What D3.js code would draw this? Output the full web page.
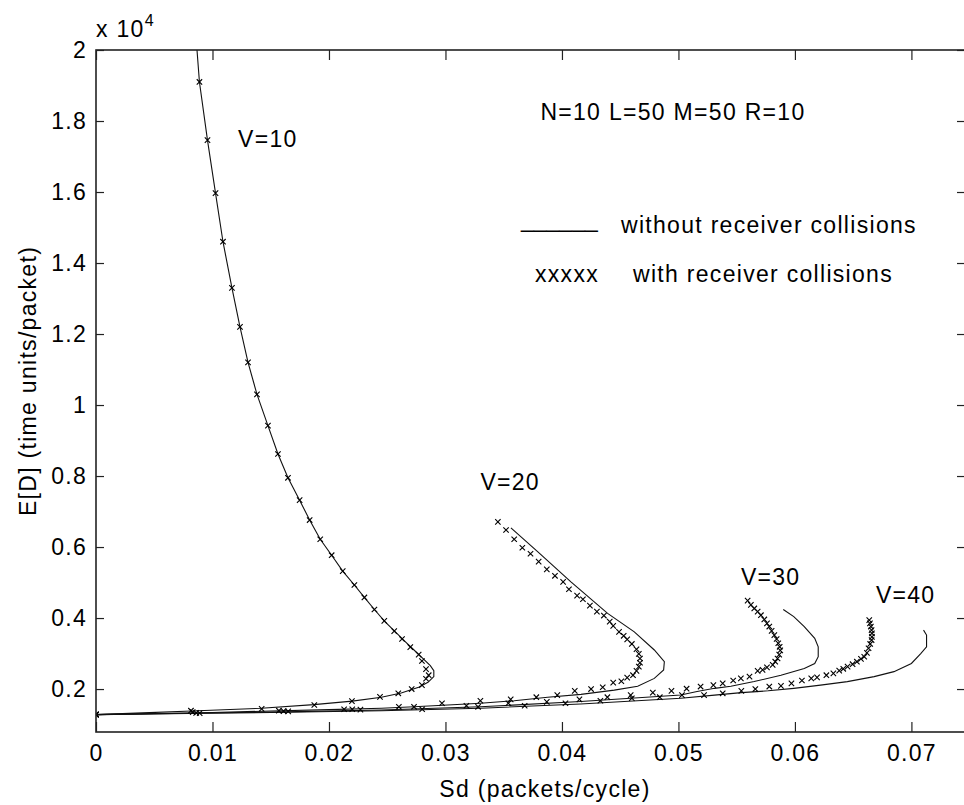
<!DOCTYPE html>
<html><head><meta charset="utf-8">
<script src="https://cdn.jsdelivr.net/npm/d3@7"></script>
<style>
html,body{margin:0;padding:0;background:#fff;}
svg{display:block;}
text{font-family:"Liberation Sans",Arial,Helvetica,sans-serif;fill:#000;}
</style></head>
<body><svg id="chart" width="964" height="805"></svg>
<script>
// ---- data (y in units of 10^4 time units/packet) ----
const xTicks = [0, 0.01, 0.02, 0.03, 0.04, 0.05, 0.06, 0.07];
const xTickLabels = ["0", "0.01", "0.02", "0.03", "0.04", "0.05", "0.06", "0.07"];
const yTicks = [0.2, 0.4, 0.6, 0.8, 1.0, 1.2, 1.4, 1.6, 1.8, 2.0];
const yTickLabels = ["0.2", "0.4", "0.6", "0.8", "1", "1.2", "1.4", "1.6", "1.8", "2"];

const v10Line = [[0,0.128],[0.004,0.133],[0.0082,0.138],[0.0142,0.146],[0.0187,0.156],[0.022,0.166],[0.0245,0.177],[0.0262,0.189],[0.0277,0.205],[0.0285,0.219],[0.0290,0.235],[0.0290,0.252],[0.0287,0.266],[0.0281,0.285],[0.0273,0.31],[0.0265,0.335],[0.0257,0.361],[0.0248,0.39],[0.0239,0.424],[0.02304,0.458],[0.02218,0.493],[0.02118,0.532],[0.02023,0.577],[0.01925,0.622],[0.01834,0.676],[0.01748,0.732],[0.01648,0.795],[0.01562,0.862],[0.01476,0.942],[0.01382,1.03],[0.01305,1.12],[0.01236,1.22],[0.01167,1.33],[0.0109,1.46],[0.01026,1.597],[0.00957,1.746],[0.00888,1.91],[0.00867,2.0],[0.0085,2.05]];
const v10Marks = [[0,0.129],[0.00815,0.139],[0.01422,0.144],[0.01874,0.155],[0.02197,0.166],[0.02438,0.178],[0.02595,0.188],[0.0271,0.2],[0.02798,0.211],[0.02833,0.229],[0.02856,0.239],[0.02833,0.256],[0.02798,0.279],[0.0277,0.297],[0.02698,0.318],[0.02627,0.341],[0.0256,0.363],[0.02475,0.392],[0.0239,0.424],[0.02304,0.458],[0.02218,0.493],[0.02118,0.532],[0.02023,0.577],[0.01925,0.622],[0.01834,0.676],[0.01748,0.732],[0.01648,0.795],[0.01562,0.862],[0.01476,0.942],[0.01382,1.03],[0.01305,1.12],[0.01236,1.22],[0.01167,1.33],[0.0109,1.46],[0.01026,1.597],[0.00957,1.746],[0.00888,1.91]];

const v20Line = [[0,0.128],[0.005,0.131],[0.01,0.134],[0.015,0.138],[0.02,0.142],[0.0245,0.146],[0.0273,0.15],[0.0302,0.155],[0.033,0.16],[0.0359,0.167],[0.03877,0.177],[0.04163,0.185],[0.04449,0.197],[0.0465,0.208],[0.04793,0.23],[0.04873,0.254],[0.04879,0.277],[0.04793,0.31],[0.04621,0.361],[0.04392,0.413],[0.04077,0.502],[0.03791,0.587],[0.03562,0.654]];
const v20Marks = [[0,0.128],[0.0083,0.135],[0.0157,0.139],[0.0213,0.143],[0.026,0.15],[0.0297,0.16],[0.033,0.167],[0.0356,0.171],[0.0378,0.177],[0.0396,0.183],[0.0411,0.195],[0.0425,0.2],[0.0435,0.205],[0.0444,0.218],[0.0451,0.222],[0.0456,0.232],[0.0461,0.239],[0.0464,0.251],[0.0466,0.263],[0.0467,0.274],[0.0467,0.286],[0.0466,0.299],[0.0464,0.312],[0.046,0.327],[0.0456,0.34],[0.0453,0.35],[0.0449,0.361],[0.0444,0.378],[0.0441,0.39],[0.0436,0.407],[0.043,0.418],[0.0424,0.435],[0.0418,0.453],[0.0413,0.463],[0.0406,0.481],[0.0401,0.502],[0.0394,0.519],[0.0387,0.537],[0.038,0.559],[0.0373,0.581],[0.0366,0.598],[0.0359,0.622],[0.0352,0.648],[0.0345,0.671]];

const v30Line = [[0,0.128],[0.008,0.132],[0.015,0.135],[0.0245,0.141],[0.033,0.15],[0.0416,0.165],[0.0502,0.183],[0.0516,0.193],[0.0531,0.202],[0.0545,0.208],[0.0565,0.221],[0.0588,0.239],[0.0608,0.258],[0.0617,0.272],[0.062,0.291],[0.062,0.319],[0.0617,0.343],[0.0608,0.376],[0.0599,0.404],[0.059,0.424]];
const v30Marks = [[0,0.128],[0.0086,0.133],[0.0161,0.138],[0.022,0.143],[0.0273,0.15],[0.0318,0.153],[0.0354,0.16],[0.0387,0.164],[0.0415,0.171],[0.0439,0.177],[0.0459,0.183],[0.0478,0.19],[0.0494,0.195],[0.0507,0.201],[0.0519,0.207],[0.053,0.211],[0.0538,0.216],[0.0547,0.224],[0.05536,0.23],[0.0561,0.235],[0.0568,0.251],[0.05722,0.254],[0.0576,0.261],[0.05809,0.268],[0.05831,0.277],[0.05851,0.286],[0.05865,0.297],[0.05874,0.309],[0.05869,0.319],[0.05857,0.329],[0.05843,0.341],[0.05823,0.352],[0.058,0.364],[0.0578,0.376],[0.0576,0.385],[0.05737,0.396],[0.05708,0.408],[0.0568,0.418],[0.05651,0.427],[0.05622,0.437],[0.05594,0.449]];

const v40Line = [[0,0.128],[0.008,0.131],[0.015,0.134],[0.0245,0.139],[0.033,0.146],[0.0416,0.158],[0.0502,0.174],[0.0531,0.183],[0.0554,0.19],[0.0577,0.195],[0.0599,0.202],[0.0622,0.211],[0.0645,0.221],[0.0668,0.235],[0.0685,0.249],[0.07,0.272],[0.0708,0.3],[0.0713,0.319],[0.0713,0.352],[0.07104,0.366]];
const v40Marks = [[0,0.128],[0.0089,0.132],[0.0165,0.137],[0.0227,0.142],[0.028,0.143],[0.0328,0.15],[0.0368,0.153],[0.0403,0.16],[0.0433,0.167],[0.046,0.174],[0.0484,0.177],[0.0503,0.183],[0.0522,0.183],[0.0538,0.188],[0.0554,0.195],[0.0566,0.2],[0.0578,0.207],[0.0588,0.209],[0.0597,0.216],[0.0606,0.224],[0.0614,0.23],[0.0619,0.233],[0.0627,0.239],[0.0633,0.244],[0.0638,0.252],[0.06415,0.257],[0.06452,0.263],[0.06495,0.27],[0.06532,0.277],[0.06567,0.285],[0.06595,0.291],[0.06618,0.302],[0.06632,0.315],[0.06646,0.327],[0.06658,0.338],[0.06661,0.347],[0.06661,0.357],[0.06658,0.366],[0.06652,0.376],[0.06644,0.385],[0.06638,0.394]];

const curveLabels = [["V=10",0.0122,1.727],["V=20",0.033,0.761],["V=30",0.05536,0.493],["V=40",0.06695,0.443]];

// ---- layout ----
const svg = d3.select("#chart");
const L = 96, R = 965, T = 50, B = 732;
const FS = 23, LS = "1.3px";
const x = d3.scaleLinear().domain([0, 0.0746]).range([L, R]);
const y = d3.scaleLinear().domain([0.079, 2.0]).range([B, T]);

svg.append("defs").append("clipPath").attr("id","clip")
  .append("rect").attr("x",L).attr("y",T).attr("width",R-L).attr("height",B-T);

const plot = svg.append("g").attr("clip-path","url(#clip)");
const line = d3.line().x(d=>x(d[0])).y(d=>y(d[1]));

[v10Line, v20Line, v30Line, v40Line].forEach(s=>{
  plot.append("path").datum(s).attr("d",line)
    .attr("fill","none").attr("stroke","#111").attr("stroke-width",1.1);
});
const ms = 2.7;
[v10Marks, v20Marks, v30Marks, v40Marks].forEach(s=>{
  plot.append("g").selectAll("path").data(s).join("path")
    .attr("d", d=>{const cx=x(d[0]), cy=y(d[1]);
      return `M${cx-ms},${cy-ms}L${cx+ms},${cy+ms}M${cx-ms},${cy+ms}L${cx+ms},${cy-ms}`;})
    .attr("stroke","#000").attr("stroke-width",1.1).attr("fill","none");
});

// ---- axes ----
function styleAxis(g){
  g.select(".domain").remove();
  g.selectAll(".tick line").attr("stroke","#222").attr("stroke-width",1.2);
  g.selectAll(".tick text").attr("font-size",FS).attr("letter-spacing",LS)
    .attr("font-family","'Liberation Sans',Arial,sans-serif").attr("fill","#000");
}
svg.append("g").attr("transform",`translate(0,${B})`)
  .call(d3.axisBottom(x).tickValues(xTicks).tickFormat((d,i)=>xTickLabels[i]).tickSizeInner(-10).tickSizeOuter(0).tickPadding(13))
  .call(styleAxis);
svg.append("g").attr("transform",`translate(0,${T})`)
  .call(d3.axisTop(x).tickValues(xTicks).tickFormat("").tickSizeInner(-10).tickSizeOuter(0))
  .call(styleAxis);
svg.append("g").attr("transform",`translate(${L},0)`)
  .call(d3.axisLeft(y).tickValues(yTicks).tickFormat((d,i)=>yTickLabels[i]).tickSizeInner(-8).tickSizeOuter(0).tickPadding(9))
  .call(styleAxis);
svg.append("g").attr("transform",`translate(${R},0)`)
  .call(d3.axisRight(y).tickValues(yTicks).tickFormat("").tickSizeInner(-8).tickSizeOuter(0))
  .call(styleAxis);

svg.append("rect").attr("x",L).attr("y",T).attr("width",R-L).attr("height",B-T)
  .attr("fill","none").attr("stroke","#222").attr("stroke-width",1.6);

// exponent
const ex = svg.append("text").attr("x",L).attr("y",37).attr("font-size",FS).attr("letter-spacing",LS);
ex.append("tspan").text("x 10");
ex.append("tspan").attr("dy",-11).attr("font-size",16).text("4");

// axis labels
svg.append("text").attr("x",545).attr("y",797).attr("text-anchor","middle")
  .attr("font-size",FS).attr("letter-spacing",LS).text("Sd (packets/cycle)");
svg.append("text").attr("transform","translate(36,381) rotate(-90)").attr("text-anchor","middle")
  .attr("font-size",FS).attr("letter-spacing",LS).text("E[D] (time units/packet)");

// curve labels
svg.append("g").selectAll("text").data(curveLabels).join("text")
  .attr("x",d=>x(d[1])).attr("y",d=>y(d[2]))
  .attr("font-size",FS).attr("letter-spacing",LS).text(d=>d[0]);

// parameter text and legend
svg.append("text").attr("x",x(0.03815)).attr("y",y(1.803)).attr("font-size",FS).attr("letter-spacing",LS)
  .text("N=10 L=50 M=50 R=10");
svg.append("text").attr("x",521).attr("y",227).attr("font-size",FS).text("______");
svg.append("text").attr("x",621).attr("y",233).attr("font-size",FS).attr("letter-spacing",LS)
  .text("without receiver collisions");
svg.append("text").attr("x",535).attr("y",282).attr("font-size",FS).attr("letter-spacing",LS)
  .text("xxxxx");
svg.append("text").attr("x",633).attr("y",282).attr("font-size",FS).attr("letter-spacing",LS)
  .text("with receiver collisions");
</script></body></html>
